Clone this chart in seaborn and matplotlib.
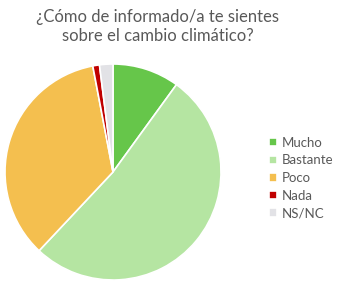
import matplotlib
matplotlib.use("Agg")
import matplotlib.pyplot as plt
import seaborn as sns

# data
labels = ["Mucho", "Bastante", "Poco", "Nada", "NS/NC"]
values = [10, 52, 35, 1, 2]
colors = ["#66c64a", "#b5e5a2", "#f4bf4f", "#c00000", "#e2e2e6"]
title = "¿Cómo de informado/a te sientes\nsobre el cambio climático?"

sns.set_theme(style="white")
plt.rcParams["font.family"] = ["Lato", "DejaVu Sans"]

W, H = 347, 290
fig = plt.figure(figsize=(W / 100, H / 100), dpi=100)

# pie axes: centre ~(113,172) px, radius ~108 px
cx, cy, r = 113, 172, 108
ax = fig.add_axes([(cx - r) / W, (H - cy - r) / H, 2 * r / W, 2 * r / H])
wedges, _ = ax.pie(values, colors=sns.color_palette(colors), startangle=90,
                   counterclock=False,
                   wedgeprops=dict(edgecolor="white", linewidth=1.2))
ax.set_xlim(-1, 1)
ax.set_ylim(-1, 1)
ax.set_aspect("equal")

fig.text(0.455, 0.97, title, ha="center", va="top", fontsize=12,
         color="#595959", linespacing=1.25)

leg = fig.legend(wedges, labels, loc="center left",
                 bbox_to_anchor=(264 / W, 1 - 178 / H), frameon=False,
                 fontsize=9.5, handlelength=0.6, handleheight=0.6,
                 handletextpad=0.35, labelspacing=0.42, borderaxespad=0)
for t in leg.get_texts():
    t.set_color("#595959")

fig.savefig("out.png", dpi=100)
